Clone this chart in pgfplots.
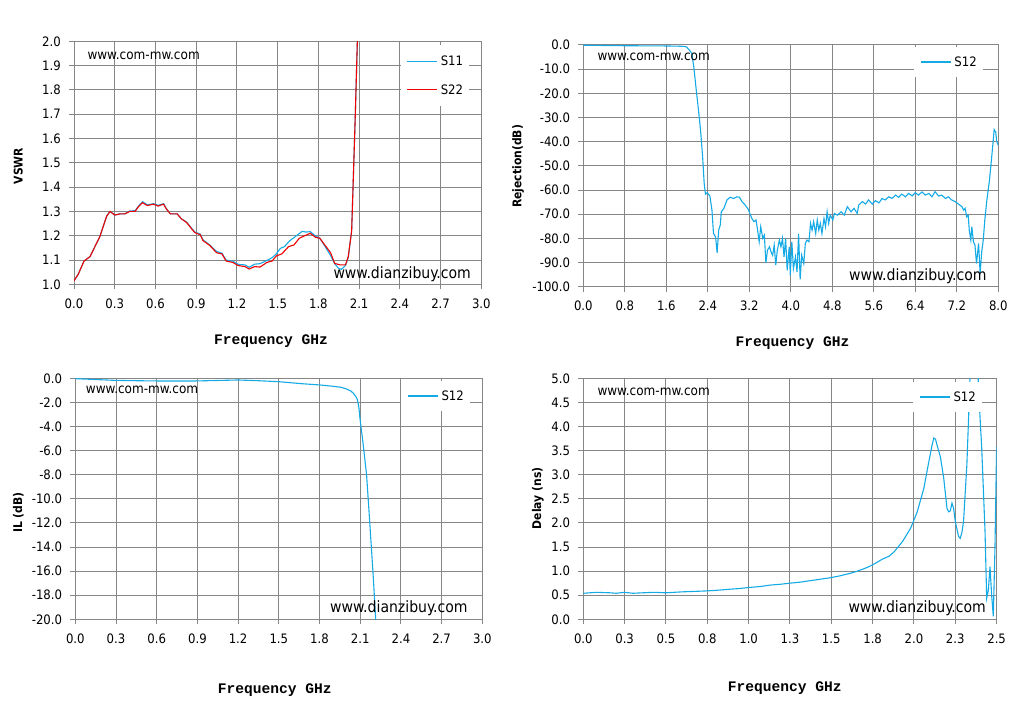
\documentclass[border=0pt]{standalone}
\usepackage{fontspec}
\usepackage{pgfplots}
\pgfplotsset{compat=1.18}
\newfontfamily\tf[BoldFont={DejaVu Sans Condensed Bold}]{DejaVu Sans Condensed}
\newfontfamily\ff{Liberation Mono}
\definecolor{gridgray}{RGB}{134,134,134}
\definecolor{sblue}{RGB}{20,170,230}
\definecolor{sred}{RGB}{240,0,0}
\newcommand\tickf{\tf\fontsize{13}{13}\selectfont}
\newcommand\legf{\tf\fontsize{13}{13}\selectfont}
\newcommand\ylabf{\tf\bfseries\fontsize{12}{12}\selectfont}
\newcommand\xlabf{\ff\bfseries\fontsize{14.6}{14.6}\selectfont}
\newcommand\wma{\tf\fontsize{13.4}{13.4}\selectfont}
\newcommand\wmb{\tf\fontsize{15.6}{15.6}\selectfont}
\pgfplotsset{
  panel/.style={
    scale only axis,
    axis line style={draw=gridgray, line width=1pt},
    grid=major,
    grid style={draw=gridgray, line width=1pt},
    tick style={draw=gridgray, line width=1pt},
    major tick length=5pt,
    tick align=outside,
    tick pos=left,
    tick label style={font=\tickf},
    xticklabel style={yshift=-6pt},
    yticklabel style={xshift=-4.7pt},
    every axis plot/.append style={line width=1.1pt, mark=none},
    legend image code/.code={\draw[##1, line width=1.1pt] (0pt,0pt) -- (30pt,0pt);},
    legend style={draw=none, fill=white, inner xsep=6pt, inner ysep=9.25pt,
      row sep=17.5pt, font=\legf, anchor=north east,
      nodes={inner sep=0pt},
      /tikz/every odd column/.append style={column sep=3pt}},
    legend cell align=left,
  }
}
\begin{document}
\begin{tikzpicture}[x=1pt,y=1pt]
\useasboundingbox (0,0) rectangle (1035,713);
% ---------------- Panel 1: VSWR
\begin{axis}[panel, at={(74pt,428.67pt)}, anchor=south west,
  width=407.3pt, height=243pt,
  xmin=0, xmax=3, ymin=1, ymax=2,
  xtick={0,0.3,0.6,0.9,1.2,1.5,1.8,2.1,2.4,2.7,3.0},
  xticklabels={0.0,0.3,0.6,0.9,1.2,1.5,1.8,2.1,2.4,2.7,3.0},
  ytick={1,1.1,1.2,1.3,1.4,1.5,1.6,1.7,1.8,1.9,2.0},
  yticklabels={1.0,1.1,1.2,1.3,1.4,1.5,1.6,1.7,1.8,1.9,2.0},
  legend style={at={(0.9705,0.9848)}, inner ysep=10.5pt}]
\addplot[sblue] coordinates {(0,1.015)(0.03,1.04)(0.074,1.096)(0.118,1.114)(0.19,1.196)(0.24,1.28)(0.265,1.30)(0.30,1.285)(0.34,1.29)(0.375,1.29)(0.41,1.302)(0.45,1.303)(0.475,1.322)(0.505,1.340)(0.54,1.327)(0.585,1.332)(0.62,1.325)(0.66,1.332)(0.68,1.312)(0.71,1.29)(0.76,1.29)(0.79,1.27)(0.83,1.256)(0.87,1.228)(0.89,1.215)(0.93,1.207)(0.95,1.183)(1.0,1.162)(1.05,1.135)(1.09,1.128)(1.12,1.10)(1.17,1.095)(1.21,1.082)(1.26,1.08)(1.29,1.07)(1.33,1.083)(1.37,1.085)(1.42,1.098)(1.46,1.11)(1.49,1.125)(1.52,1.148)(1.55,1.155)(1.59,1.18)(1.62,1.192)(1.65,1.205)(1.68,1.218)(1.71,1.215)(1.74,1.217)(1.78,1.198)(1.81,1.19)(1.85,1.155)(1.89,1.118)(1.92,1.085)(1.95,1.065)(1.97,1.062)(2.0,1.078)(2.02,1.11)(2.045,1.22)(2.057,1.43)(2.072,1.70)(2.087,2.0)(2.095,2.2)};
\addlegendentry{S11}
\addplot[sred] coordinates {(0,1.015)(0.03,1.04)(0.074,1.096)(0.118,1.114)(0.19,1.196)(0.24,1.28)(0.265,1.30)(0.30,1.285)(0.34,1.29)(0.375,1.29)(0.41,1.30)(0.45,1.30)(0.475,1.32)(0.505,1.336)(0.54,1.324)(0.585,1.33)(0.62,1.322)(0.66,1.33)(0.68,1.31)(0.71,1.29)(0.76,1.29)(0.79,1.27)(0.83,1.254)(0.87,1.226)(0.89,1.213)(0.93,1.204)(0.95,1.18)(1.0,1.16)(1.05,1.13)(1.09,1.125)(1.12,1.096)(1.17,1.09)(1.21,1.077)(1.26,1.073)(1.29,1.063)(1.33,1.073)(1.37,1.071)(1.42,1.09)(1.46,1.096)(1.49,1.117)(1.53,1.125)(1.58,1.155)(1.62,1.162)(1.66,1.19)(1.70,1.20)(1.74,1.21)(1.78,1.193)(1.81,1.19)(1.85,1.16)(1.89,1.13)(1.92,1.086)(1.96,1.08)(2.0,1.08)(2.02,1.114)(2.045,1.22)(2.057,1.43)(2.072,1.70)(2.087,2.0)(2.095,2.2)};
\addlegendentry{S22}
\end{axis}
% ---------------- Panel 2: Rejection
\begin{axis}[panel, at={(583.3pt,426.3pt)}, anchor=south west,
  width=415pt, height=241.7pt,
  xmin=0, xmax=8, ymin=-100, ymax=0,
  xtick={0,0.8,1.6,2.4,3.2,4.0,4.8,5.6,6.4,7.2,8.0},
  xticklabels={0.0,0.8,1.6,2.4,3.2,4.0,4.8,5.6,6.4,7.2,8.0},
  ytick={-100,-90,-80,-70,-60,-50,-40,-30,-20,-10,0},
  yticklabels={-100.0,-90.0,-80.0,-70.0,-60.0,-50.0,-40.0,-30.0,-20.0,-10.0,0.0},
  legend style={at={(0.9631,0.9917)}}]
\addplot[sblue] coordinates {(0,-0.1)(0.4,-0.2)(0.8,-0.3)(1.2,-0.35)(1.6,-0.4)(1.85,-0.5)(1.95,-0.6)(1.99,-0.8)(2.04,-2)(2.09,-3.4)(2.13,-9)(2.17,-17.2)(2.22,-26.9)(2.26,-35.2)(2.30,-46.2)(2.33,-57.2)(2.355,-61.7)(2.39,-61.1)(2.44,-62.5)(2.48,-68.3)(2.51,-78)(2.55,-79.4)(2.58,-86)(2.61,-76.6)(2.64,-74.5)(2.66,-69)(2.71,-67.6)(2.77,-64.1)(2.83,-63)(2.90,-63.5)(2.96,-62.8)(3.01,-63)(3.06,-64.8)(3.12,-66.2)(3.18,-68)(3.21,-69.7)(3.25,-71.8)(3.29,-73.1)(3.33,-72.4)(3.36,-76.6)(3.39,-81.4)(3.42,-75.2)(3.46,-80)(3.49,-78.7)(3.52,-90.2)(3.55,-84.9)(3.59,-83.5)(3.62,-85.6)(3.65,-87)(3.68,-82.8)(3.71,-91.1)(3.74,-84.9)(3.78,-80.7)(3.81,-83.5)(3.84,-80)(3.87,-87.7)(3.90,-80)(3.93,-93.2)(3.97,-83.5)(3.99,-95.3)(4.02,-81.4)(4.05,-92.5)(4.09,-87.7)(4.12,-93.9)(4.15,-78)(4.18,-97)(4.21,-87)(4.25,-90.4)(4.28,-82.1)(4.31,-80.7)(4.35,-81.4)(4.38,-73.8)(4.41,-76.6)(4.44,-73.1)(4.48,-78)(4.51,-72.4)(4.54,-76.6)(4.57,-73.8)(4.60,-78)(4.64,-71.8)(4.67,-75.2)(4.70,-69)(4.73,-73.8)(4.76,-70.4)(4.81,-72.4)(4.84,-69.7)(4.90,-70.4)(4.97,-69)(5.03,-70.4)(5.09,-66.9)(5.16,-69)(5.22,-67.6)(5.28,-69.7)(5.31,-66.2)(5.38,-64.8)(5.44,-65.8)(5.50,-64.1)(5.57,-65.8)(5.63,-64.4)(5.70,-65.3)(5.76,-63.5)(5.82,-64.1)(5.89,-62.8)(5.95,-63.5)(6.02,-62.1)(6.08,-63)(6.14,-61.7)(6.21,-62.8)(6.27,-61.4)(6.34,-62.4)(6.40,-61.1)(6.46,-62.1)(6.53,-60.8)(6.59,-62.1)(6.66,-61.4)(6.72,-62.8)(6.78,-60.7)(6.85,-62.5)(6.91,-62.1)(6.98,-63.5)(7.04,-62.8)(7.10,-64.1)(7.17,-64.8)(7.23,-65.8)(7.30,-66.9)(7.33,-68.3)(7.36,-67.6)(7.39,-71.1)(7.42,-70.4)(7.44,-76.6)(7.47,-80.7)(7.49,-75.2)(7.52,-81.4)(7.55,-82.8)(7.58,-90.4)(7.62,-82.1)(7.65,-94.6)(7.68,-85.6)(7.71,-80.7)(7.74,-72.4)(7.78,-64.1)(7.83,-55.9)(7.87,-47)(7.90,-40)(7.92,-35)(7.95,-36)(7.97,-40)(8.0,-41.5)};
\addlegendentry{S12}
\end{axis}
% ---------------- Panel 3: IL
\begin{axis}[panel, at={(75.3pt,93.7pt)}, anchor=south west,
  width=407pt, height=241pt,
  xmin=0, xmax=3, ymin=-20, ymax=0,
  xtick={0,0.3,0.6,0.9,1.2,1.5,1.8,2.1,2.4,2.7,3.0},
  xticklabels={0.0,0.3,0.6,0.9,1.2,1.5,1.8,2.1,2.4,2.7,3.0},
  ytick={-20,-18,-16,-14,-12,-10,-8,-6,-4,-2,0},
  yticklabels={-20.0,-18.0,-16.0,-14.0,-12.0,-10.0,-8.0,-6.0,-4.0,-2.0,0.0},
  legend style={at={(0.9698,0.9888)}}]
\addplot[sblue] coordinates {(0,-0.03)(0.15,-0.1)(0.29,-0.17)(0.45,-0.2)(0.6,-0.22)(0.75,-0.22)(0.89,-0.22)(1.05,-0.18)(1.2,-0.14)(1.35,-0.2)(1.5,-0.28)(1.6,-0.38)(1.66,-0.44)(1.8,-0.55)(1.9,-0.66)(1.96,-0.75)(2.0,-0.89)(2.03,-1.05)(2.05,-1.24)(2.07,-1.55)(2.08,-1.8)(2.09,-2.4)(2.098,-3.3)(2.12,-5.3)(2.147,-8.0)(2.17,-11.9)(2.197,-16.6)(2.214,-20)(2.22,-21)};
\addlegendentry{S12}
\end{axis}
% ---------------- Panel 4: Delay
\begin{axis}[panel, at={(583.3pt,93.7pt)}, anchor=south west,
  width=413.3pt, height=241pt,
  xmin=0, xmax=2.5, ymin=0, ymax=5,
  xtick={0,0.25,0.5,0.75,1.0,1.25,1.5,1.75,2.0,2.25,2.5},
  xticklabels={0.0,0.3,0.5,0.8,1.0,1.3,1.5,1.8,2.0,2.3,2.5},
  ytick={0,0.5,1,1.5,2,2.5,3,3.5,4,4.5,5},
  yticklabels={0.0,0.5,1.0,1.5,2.0,2.5,3.0,3.5,4.0,4.5,5.0},
  legend style={at={(0.9647,0.9846)}}]
\addplot[sblue] coordinates {(0,0.54)(0.08,0.56)(0.16,0.55)(0.2,0.54)(0.25,0.56)(0.3,0.54)(0.36,0.55)(0.43,0.56)(0.5,0.55)(0.55,0.56)(0.6,0.57)(0.68,0.58)(0.75,0.59)(0.8,0.60)(0.87,0.62)(0.95,0.64)(1.0,0.66)(1.07,0.68)(1.13,0.71)(1.2,0.73)(1.25,0.75)(1.31,0.77)(1.37,0.80)(1.43,0.83)(1.49,0.86)(1.55,0.90)(1.61,0.95)(1.65,0.99)(1.69,1.04)(1.72,1.08)(1.75,1.13)(1.78,1.19)(1.81,1.25)(1.85,1.31)(1.88,1.40)(1.93,1.61)(1.98,1.89)(2.02,2.23)(2.06,2.72)(2.09,3.27)(2.11,3.62)(2.12,3.76)(2.13,3.74)(2.145,3.55)(2.16,3.37)(2.18,2.93)(2.20,2.30)(2.21,2.23)(2.22,2.25)(2.23,2.41)(2.24,2.30)(2.25,2.03)(2.27,1.72)(2.28,1.68)(2.29,1.80)(2.30,2.03)(2.32,3.2)(2.335,4.6)(2.345,5.6)(2.385,5.6)(2.39,4.8)(2.41,3.55)(2.43,1.82)(2.44,0.44)(2.45,0.6)(2.46,1.09)(2.47,0.5)(2.48,0.06)(2.49,1.47)(2.50,3.58)};
\addlegendentry{S12}
\end{axis}
% ---------------- labels
\node[rotate=90, font=\ylabf, inner sep=0pt] at (18.3,547) {VSWR};
\node[rotate=90, font=\ylabf, inner sep=0pt] at (518,546.7) {Rejection(dB)};
\node[rotate=90, font=\ylabf, inner sep=0pt] at (18.3,200.5) {IL (dB)};
\node[rotate=90, font=\ylabf, inner sep=0pt] at (537.8,214.7) {Delay (ns)};
\node[font=\xlabf, inner sep=0pt, anchor=base] at (271,368) {Frequency GHz};
\node[font=\xlabf, inner sep=0pt, anchor=base] at (792.5,366.3) {Frequency GHz};
\node[font=\xlabf, inner sep=0pt, anchor=base] at (274.7,19.7) {Frequency GHz};
\node[font=\xlabf, inner sep=0pt, anchor=base] at (784.7,21.3) {Frequency GHz};
% ---------------- watermarks
\node[font=\wma, inner sep=0pt, anchor=base west] at (87.3,653) {www.com-mw.com};
\node[font=\wmb, inner sep=0pt, anchor=base west] at (333.3,434.7) {www.dianzibuy.com};
\node[font=\wma, inner sep=0pt, anchor=base west] at (597.3,652.3) {www.com-mw.com};
\node[font=\wmb, inner sep=0pt, anchor=base west] at (849,432.3) {www.dianzibuy.com};
\node[font=\wma, inner sep=0pt, anchor=base west] at (85.7,319.3) {www.com-mw.com};
\node[font=\wmb, inner sep=0pt, anchor=base west] at (330,100.7) {www.dianzibuy.com};
\node[font=\wma, inner sep=0pt, anchor=base west] at (597.3,318) {www.com-mw.com};
\node[font=\wmb, inner sep=0pt, anchor=base west] at (848.3,100.7) {www.dianzibuy.com};
\end{tikzpicture}
\end{document}
